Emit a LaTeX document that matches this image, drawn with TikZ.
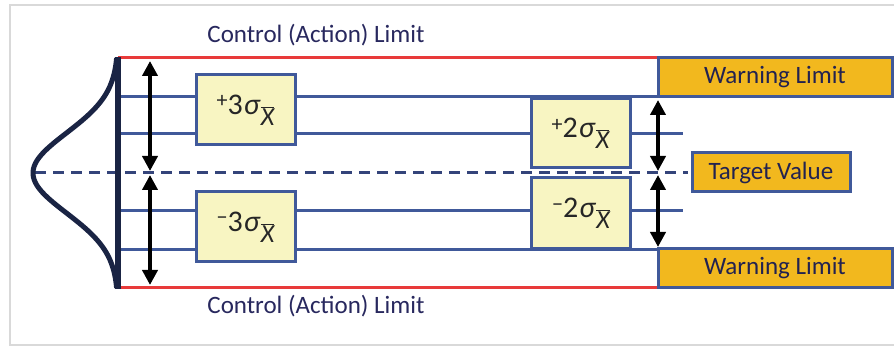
\documentclass[tikz,border=0pt]{standalone}
\usepackage{fontspec}
\setmainfont{Carlito}
\usetikzlibrary{arrows.meta}
\definecolor{navy}{HTML}{1A2444}
\definecolor{lblue}{HTML}{40599A}
\definecolor{redl}{HTML}{E83A3A}
\definecolor{txt}{HTML}{28285E}
\definecolor{pale}{HTML}{F8F5C2}
\definecolor{gold}{HTML}{F2B81E}
\definecolor{dashc}{HTML}{34447A}
\newcommand\mysig[2]{\raisebox{0.45ex}{\fontsize{22}{24}\selectfont#1}#2\kern1pt\textit{σ}\raisebox{-0.75ex}{\fontsize{26}{28}\selectfont$\overline{\mbox{\fontsize{26}{28}\selectfont\itshape X}}$}}
\begin{document}
\begin{tikzpicture}[x=1pt,y=-1pt,
  lim/.style={line width=3pt,lblue},
  sbox/.style={draw=lblue,line width=3pt,fill=pale,minimum width=99pt,minimum height=70pt,inner sep=0pt,font=\fontsize{30}{34}\selectfont,text=black!85},
  gbox/.style={draw=lblue,line width=3pt,fill=gold,inner sep=0pt,font=\fontsize{25}{29}\selectfont\color{txt!85!black}},
  dbl/.style={line width=4pt,black,{Triangle[length=15pt,width=15pt]}-{Triangle[length=15pt,width=15pt]}},
  lbl/.style={font=\fontsize{25}{29}\selectfont,text=txt}]
\useasboundingbox (0,0) rectangle (894,347);
\fill[white] (0,0) rectangle (894,347);
\draw[line width=2.5pt,black!15] (894,5) -- (10,5) -- (10,345) -- (894,345);
% red control limits
\draw[line width=3pt,redl] (118,58) -- (658,58);
\draw[line width=3pt,redl] (118,288) -- (658,288);
% blue lines
\draw[lim] (118,97) -- (658,97);
\draw[lim] (118,134) -- (683,134);
\draw[lim] (118,211) -- (683,211);
\draw[lim] (118,250) -- (658,250);
% dashed target
\draw[line width=3pt,dashc,dash pattern=on 11pt off 7pt] (35,173) -- (688,173);
% bell curve and axis
\draw[line width=5pt,navy,line join=round] plot[domain=58:288,samples=90,smooth] ({118-85*exp(-((\x-173)/40)^2/2)},\x);
\draw[line width=5.5pt,navy] (118,57) -- (118,289);
% boxes
\node[sbox] (p3) at (245.5,110) {\mysig{+}{3}};
\node[sbox] (m3) at (245.5,227) {\mysig{−}{3}};
\node[sbox,minimum height=69pt] (p2) at (580.5,133.5) {\mysig{+}{2}};
\node[sbox,minimum height=71pt] (m2) at (581,213.5) {\mysig{−}{2}};
\node[gbox,minimum width=234pt,minimum height=39pt] (w1) at (775,77.5) {Warning Limit};
\node[gbox,minimum width=234pt,minimum height=39pt] (w2) at (775,268.5) {Warning Limit};
\node[gbox,minimum width=158pt,minimum height=39pt] (tv) at (771,172.5) {Target Value};
% labels
\node[lbl] (ct) at (316,35) {Control (Action) Limit};
\node[lbl] (cb) at (316,306) {Control (Action) Limit};
% arrows
\coordinate (a1) at (150,61); \coordinate (a2) at (150,171);
\coordinate (a3) at (150,175); \coordinate (a4) at (150,285);
\coordinate (b1) at (658,100); \coordinate (b2) at (658,171);
\coordinate (b3) at (658,175); \coordinate (b4) at (658,247);
\draw[dbl] (a1) -- (a2);
\draw[dbl] (a3) -- (a4);
\draw[dbl] (b1) -- (b2);
\draw[dbl] (b3) -- (b4);
\end{tikzpicture}
\end{document}
